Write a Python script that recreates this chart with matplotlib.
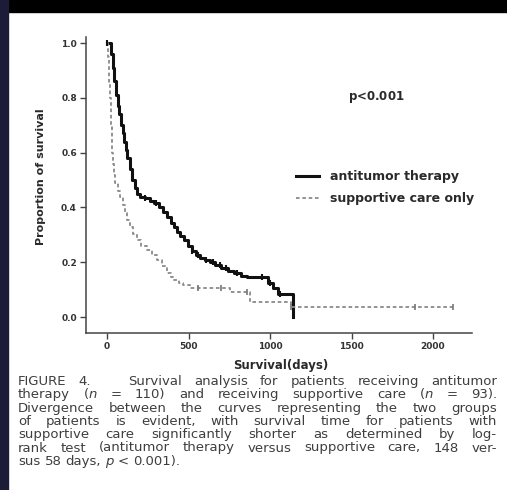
import re
import matplotlib
matplotlib.use('Agg')
import matplotlib.pyplot as plt
from matplotlib.patches import Rectangle

plt.rcParams['font.family'] = ['DejaVu Sans']
plt.rcParams['mathtext.fontset'] = 'dejavusans'

# antitumor therapy (n = 110), Kaplan-Meier steps
anti_days = [0, 15, 25, 35, 45, 55, 65, 75, 85, 95, 105, 115, 125, 140, 155, 170,
             185, 200, 230, 265, 290, 320, 345, 370, 390, 410, 430, 450, 470, 495,
             520, 545, 570, 600, 630, 660, 700, 740, 780, 820, 860, 990, 1020, 1050, 1140]
anti_surv = [1.0, 1.0, 0.96, 0.91, 0.86, 0.81, 0.77, 0.74, 0.70, 0.67, 0.64, 0.61, 0.58,
             0.54, 0.50, 0.47, 0.45, 0.44, 0.435, 0.425, 0.415, 0.40, 0.385, 0.365, 0.345,
             0.33, 0.31, 0.295, 0.28, 0.26, 0.24, 0.225, 0.215, 0.21, 0.20, 0.19, 0.18,
             0.17, 0.16, 0.15, 0.145, 0.125, 0.105, 0.085, 0.0]
anti_cens_days = [0, 230, 300, 520, 560, 610, 650, 690, 730, 800, 950, 1000, 1060]
anti_cens_surv = [1.0, 0.435, 0.415, 0.24, 0.225, 0.21, 0.20, 0.19, 0.18, 0.16, 0.145, 0.125, 0.085]

# supportive care only (n = 93)
supp_days = [0, 8, 12, 15, 18, 22, 26, 28, 30, 35, 42, 50, 65, 80, 95, 110, 125, 141,
             160, 184, 210, 245, 275, 307, 340, 368, 390, 405, 440, 466, 510, 552, 755,
             878, 1130, 2122]
supp_surv = [1.0, 0.95, 0.90, 0.85, 0.80, 0.75, 0.70, 0.65, 0.60, 0.56, 0.52, 0.49,
             0.46, 0.44, 0.41, 0.38, 0.355, 0.33, 0.305, 0.28, 0.26, 0.245, 0.225, 0.208,
             0.185, 0.16, 0.145, 0.135, 0.125, 0.117, 0.108, 0.106, 0.092, 0.055, 0.038, 0.038]
supp_cens_days = [560, 700, 860, 1130, 1890, 2122]
supp_cens_surv = [0.106, 0.106, 0.092, 0.038, 0.038, 0.038]

yticks = [0.0, 0.2, 0.4, 0.6, 0.8, 1.0]
xticks = [0, 500, 1000, 1500, 2000]

# $..$ marks italic pieces
caption = [
    'FIGURE 4.   Survival analysis for patients receiving antitumor',
    'therapy ($n$ = 110) and receiving supportive care ($n$ = 93).',
    'Divergence between the curves representing the two groups',
    'of patients is evident, with survival time for patients with',
    'supportive care significantly shorter as determined by log-',
    'rank test (antitumor therapy versus supportive care, 148 ver-',
    'sus 58 days, $p$ < 0.001).',
]

W, H = 507, 490
ink = '#2a2a2a'
fig = plt.figure(figsize=(W / 100, H / 100), dpi=100)
fig.patches.append(Rectangle((0, 1 - 12 / H), 1, 12 / H, transform=fig.transFigure,
                             color='black', zorder=0))
fig.patches.append(Rectangle((0, 0), 8 / W, 1, transform=fig.transFigure,
                             color='#1c1c38', zorder=0))

ax = fig.add_axes([86 / W, 1 - 333 / H, 386 / W, 296 / H])
ax.step(anti_days, anti_surv, where='post', color='#111111', lw=2.2,
        label='antitumor therapy')
ax.step(supp_days, supp_surv, where='post', color='#8a8a8a', lw=1.3,
        linestyle=(0, (2, 1.5)), label='supportive care only')
ax.plot(anti_cens_days, anti_cens_surv, ls='none', marker='|', ms=5, mew=1.5, color='#111111')
ax.plot(supp_cens_days, supp_cens_surv, ls='none', marker='|', ms=4, mew=1.2, color='#777777')

ax.set_xlim(-129, 2239)
ax.set_ylim(-0.058, 1.022)
ax.set_xticks(xticks)
ax.set_yticks(yticks)
ax.set_yticklabels([f'{v:.1f}' for v in yticks])
for s in ['top', 'right']:
    ax.spines[s].set_visible(False)
for s in ['left', 'bottom']:
    ax.spines[s].set_color('#444444')
    ax.spines[s].set_linewidth(1.1)
ax.tick_params(length=4.5, width=1, color='#444444', labelsize=6.5, labelcolor='#333333', pad=2)
for t in ax.get_xticklabels() + ax.get_yticklabels():
    t.set_fontweight('bold')

ax.set_ylabel('Proportion of survival', fontsize=8, fontweight='bold', color=ink)
ax.yaxis.set_label_coords(46 / W, 1 - 177 / H, transform=fig.transFigure)
ax.set_xlabel('Survival(days)', fontsize=8.5, fontweight='bold', color=ink)
ax.xaxis.set_label_coords(281 / W, 1 - 359 / H, transform=fig.transFigure)

fig.text(376 / W, 1 - 97 / H, r'$\mathbf{p}$<0.001', fontsize=8.5, fontweight='bold',
         color=ink, ha='center', va='center')

ax.legend(loc='upper left', bbox_to_anchor=(296 / W, 1 - 170 / H),
          bbox_transform=fig.transFigure, frameon=False,
          handlelength=1.85, handletextpad=0.9, labelspacing=0.75, borderpad=0,
          borderaxespad=0, prop={'weight': 'bold', 'size': 9}, labelcolor=ink)

# justified caption, placed word by word
renderer = fig.canvas.get_renderer()
left, right = 18, 497
cap_kw = dict(fontsize=9.5, color='#3e3e3e', ha='left', va='baseline')


def width_of(t):
    return t.get_window_extent(renderer).width


probe = fig.text(0, 0, 'a a', **cap_kw)
probe2 = fig.text(0, 0, 'aa', **cap_kw)
space_w = width_of(probe) - width_of(probe2)
probe.remove()
probe2.remove()

for i, line in enumerate(caption):
    y = 1 - (385 + i * 13.3) / H
    parts = re.split(r'( +)', line)
    words = parts[0::2]
    spaces = [len(s) for s in parts[1::2]]
    # each word may hold several pieces (plain / italic)
    word_pieces = []
    word_widths = []
    for w in words:
        pieces = []
        for j, seg in enumerate(re.split(r'\$(.+?)\$', w)):
            if not seg:
                continue
            style = 'italic' if j % 2 else 'normal'
            pieces.append(fig.text(0, y, seg, style=style, **cap_kw))
        word_pieces.append(pieces)
        word_widths.append(sum(width_of(p) for p in pieces))
    if i < len(caption) - 1:
        unit = (right - left - sum(word_widths)) / sum(spaces)
    else:
        unit = space_w
    x = left
    for k, pieces in enumerate(word_pieces):
        for p in pieces:
            p.set_x(x / W)
            x += width_of(p)
        if k < len(spaces):
            x += unit * spaces[k]

fig.savefig('out.png', dpi=100)
